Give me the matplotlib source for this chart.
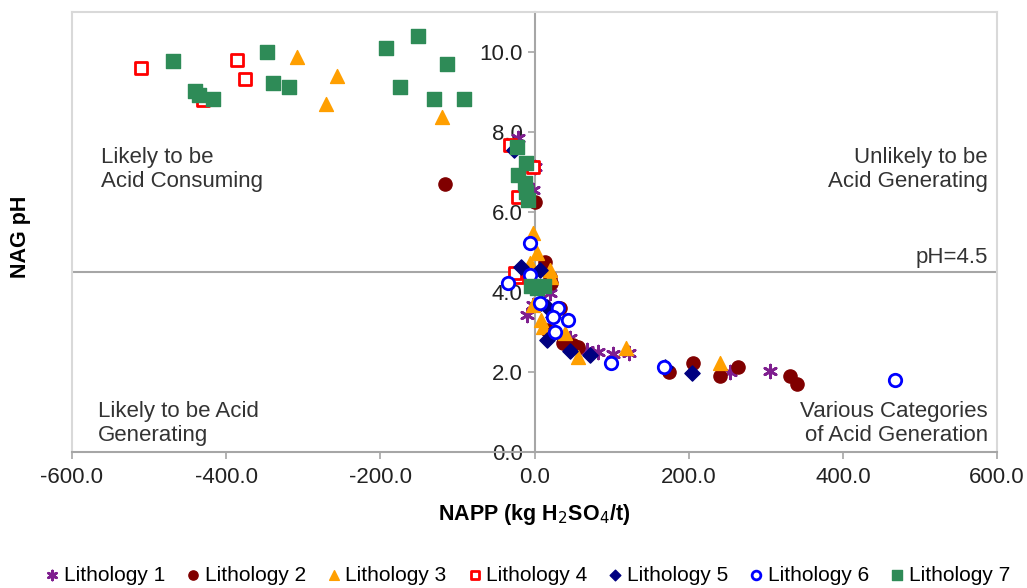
import matplotlib
matplotlib.use("Agg")
import matplotlib.pyplot as plt
from matplotlib.ticker import FixedLocator, FuncFormatter

plt.rcParams["font.family"] = ["Liberation Sans", "DejaVu Sans"]
plt.rcParams["axes.unicode_minus"] = False

# NAPP (kg H2SO4/t) and NAG pH values
lith1_x = [-21, 1, -1.5, -10, -2, 20, 46, 68, 83, 102, 122, 253, 305]
lith1_y = [7.84, 7.13, 6.55, 3.43, 3.68, 3.97, 2.85, 2.55, 2.51, 2.45, 2.47, 2.0, 2.03]

lith2_x = [-116, 1, 14, 20, 22, 33, 16, 37, 57, 50, 174, 205, 241, 264, 331, 340]
lith2_y = [6.7, 6.26, 4.76, 4.38, 4.22, 3.59, 3.05, 2.72, 2.63, 2.67, 2.0, 2.22, 1.9, 2.12, 1.9, 1.7]

lith3_x = [-308, -256, -271, -120, -1.5, 3, -6, 20, 22, -1.5, 9, 11, 40, 57, 119, 241]
lith3_y = [9.88, 9.4, 8.7, 8.38, 5.47, 4.97, 4.72, 4.55, 4.38, 3.68, 3.3, 3.13, 2.97, 2.38, 2.61, 2.22]

lith4_x = [-510, -386, -375, -430, -32, -21, -2, -23, -25]
lith4_y = [9.59, 9.8, 9.32, 8.8, 7.67, 6.38, 7.13, 4.38, 4.47]

lith5_x = [-27, -17, 7, 16, 24, 16, 46, 72, 9, 24, 169, 204]
lith5_y = [7.55, 4.63, 4.55, 3.63, 3.51, 2.8, 2.53, 2.43, 3.72, 3.38, 2.13, 1.98]

lith6_x = [-6, -6, -34, 7, 31, 24, 44, 27, 99, 168, 468]
lith6_y = [5.22, 4.43, 4.22, 3.72, 3.59, 3.38, 3.3, 3.0, 2.22, 2.12, 1.8]

lith7_x = [-469, -347, -441, -435, -417, -339, -318, -193, -151, -114, -174, -131, -92,
           -23, -11, -21, -12, -11, -8, -5, 3, 12]
lith7_y = [9.78, 9.99, 9.02, 8.92, 8.82, 9.22, 9.12, 10.09, 10.4, 9.69, 9.12, 8.82, 8.82,
           7.62, 7.22, 6.92, 6.72, 6.51, 6.3, 4.15, 4.1, 4.15]

labels = ["Lithology 1", "Lithology 2", "Lithology 3", "Lithology 4",
          "Lithology 5", "Lithology 6", "Lithology 7"]
xticks = [-600, -400, -200, 0, 200, 400, 600]
yticks = [0, 2, 4, 6, 8, 10]

fig = plt.figure(figsize=(10.27, 5.88), dpi=100)
ax = fig.add_axes([0.0701, 0.2313, 0.9007, 0.7483])
ax.set_xlim(-600, 600)
ax.set_ylim(0, 11)

# series styles
ax.scatter(lith1_x, lith1_y, marker=(6, 2, 0), s=85, color="#7F1F8F", linewidths=2, label=labels[0], zorder=3)
ax.scatter(lith2_x, lith2_y, marker="o", s=90, color="#800000", label=labels[1], zorder=3)
ax.scatter(lith3_x, lith3_y, marker="^", s=100, color="#FF9F00", label=labels[2], zorder=3)
ax.scatter(lith4_x, lith4_y, marker="s", s=75, facecolors="white", edgecolors="#FF0000",
           linewidths=2, label=labels[3], zorder=3)
ax.scatter(lith5_x, lith5_y, marker="D", s=60, color="#000080", label=labels[4], zorder=3)
ax.scatter(lith6_x, lith6_y, marker="o", s=80, facecolors="white", edgecolors="#0000FF",
           linewidths=2, label=labels[5], zorder=3)
ax.scatter(lith7_x, lith7_y, marker="s", s=100, color="#2E8B57", label=labels[6], zorder=3)

# axes crossing at x = 0 (Excel style), light frame round the plot area
ax.spines["left"].set_position(("data", 0))
ax.spines["left"].set_color("#A6A6A6")
ax.spines["bottom"].set_color("#A6A6A6")
ax.spines["top"].set_color("#D9D9D9")
ax.spines["right"].set_color("#D9D9D9")
for s in ax.spines.values():
    s.set_linewidth(1.5)
ax.plot([0, 0], [0, 1], transform=ax.transAxes, color="#D9D9D9", lw=1.5, clip_on=False)
ax.axhline(4.5, color="#A6A6A6", lw=1.5, zorder=1)

ax.xaxis.set_major_locator(FixedLocator(xticks))
ax.yaxis.set_major_locator(FixedLocator(yticks))
fmt = FuncFormatter(lambda v, p: "%.1f" % v)
ax.xaxis.set_major_formatter(fmt)
ax.yaxis.set_major_formatter(fmt)
ax.tick_params(axis="both", direction="out", length=5, width=1.2, color="#A6A6A6",
               labelsize=16, labelcolor="#222222")
ax.tick_params(axis="x", pad=6)

ax.set_xlabel("NAPP (kg H$_2$SO$_4$/t)", fontsize=15.5, fontweight="bold", labelpad=10)
fig.text(0.02, 0.597, "NAG pH", rotation=90, fontsize=15.5, fontweight="bold", ha="center", va="center")

tkw = dict(fontsize=16, color="#333333", linespacing=1.17)
ax.text(-563, 7.62, "Likely to be\nAcid Consuming", ha="left", va="top", **tkw)
ax.text(588, 7.62, "Unlikely to be\nAcid Generating", ha="right", va="top", **tkw)
ax.text(588, 4.6, "pH=4.5", ha="right", va="bottom", **tkw)
ax.text(-566, 1.27, "Likely to be Acid\nGenerating", ha="left", va="top", **tkw)
ax.text(588, 1.27, "Various Categories\nof Acid Generation", ha="right", va="top", **tkw)

fig.legend(loc="center", bbox_to_anchor=(0.513, 0.022), ncol=7, frameon=False,
           handletextpad=0.15, handlelength=0.8, columnspacing=0.95, borderaxespad=0,
           markerscale=0.7, prop={"size": 15})

fig.savefig("out.png", dpi=100)
